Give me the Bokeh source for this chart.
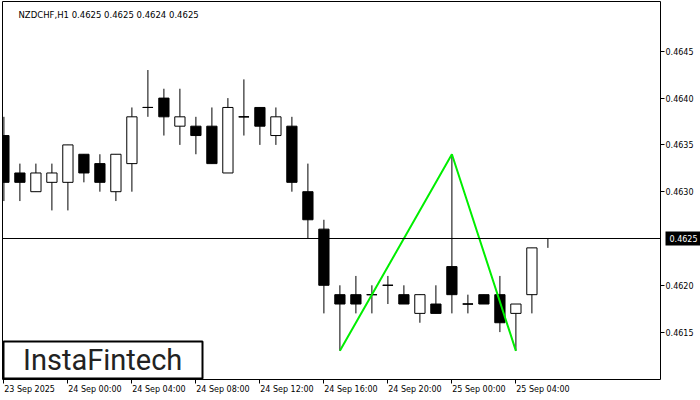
from bokeh.plotting import figure
from bokeh.models import (ColumnDataSource, Range1d, FixedTicker, Span, Label,
                          BoxAnnotation, PrintfTickFormatter, LinearAxis)
from bokeh.embed import file_html
from bokeh.resources import INLINE

# ---------------- data ----------------
chart_title = "NZDCHF,H1  0.4625 0.4625 0.4624 0.4625"
opens  = [0.4636, 0.4632, 0.4630, 0.4631, 0.4631, 0.4634, 0.4633, 0.4630, 0.4633, 0.4639,
          0.4640, 0.4637, 0.4637, 0.4637, 0.4632, 0.4638, 0.4639, 0.4636, 0.4637, 0.4630,
          0.4626, 0.4619, 0.4619, 0.4619, 0.4620, 0.4619, 0.4617, 0.4618, 0.4622, 0.4618,
          0.4619, 0.4619, 0.4617, 0.4619, 0.4625]
highs  = [0.4638, 0.4633, 0.4633, 0.4633, 0.4635, 0.4634, 0.4634, 0.4634, 0.4639, 0.4643,
          0.4641, 0.4641, 0.4638, 0.4639, 0.4640, 0.4642, 0.4639, 0.4639, 0.4638, 0.4633,
          0.4627, 0.4620, 0.4621, 0.4620, 0.4621, 0.4620, 0.4619, 0.4620, 0.4634, 0.4619,
          0.4619, 0.4621, 0.4618, 0.4624, 0.4625]
lows   = [0.4629, 0.4629, 0.4630, 0.4628, 0.4628, 0.4631, 0.4630, 0.4629, 0.4630, 0.4638,
          0.4636, 0.4635, 0.4634, 0.4633, 0.4632, 0.4636, 0.4635, 0.4635, 0.4630, 0.4625,
          0.4617, 0.4613, 0.4617, 0.4617, 0.4618, 0.4618, 0.4616, 0.4617, 0.4617, 0.4617,
          0.4618, 0.4615, 0.4613, 0.4617, 0.4624]
closes = [0.4631, 0.4631, 0.4632, 0.4632, 0.4635, 0.4632, 0.4631, 0.4634, 0.4638, 0.4639,
          0.4638, 0.4638, 0.4636, 0.4633, 0.4639, 0.4638, 0.4637, 0.4638, 0.4631, 0.4627,
          0.4620, 0.4618, 0.4618, 0.4619, 0.4620, 0.4618, 0.4619, 0.4617, 0.4619, 0.4618,
          0.4618, 0.4616, 0.4618, 0.4624, 0.4625]
x_tick_positions = [0, 4, 8, 12, 16, 20, 24, 28, 32]
x_tick_labels = ["23 Sep 2025", "24 Sep 00:00", "24 Sep 04:00", "24 Sep 08:00",
                 "24 Sep 12:00", "24 Sep 16:00", "24 Sep 20:00", "25 Sep 00:00",
                 "25 Sep 04:00"]
y_ticks = [0.4615, 0.4620, 0.4630, 0.4635, 0.4640, 0.4645]
current_price = 0.4625
current_price_label = "0.4625"
pattern_bars = [21, 28, 32]          # double bottom pattern: low, high, low
pattern_points = ["low", "high", "low"]
logo_text = "InstaFintech"

# ---------------- helpers (reference pixel -> data) ----------------
BAR_PX, BAR0_PX = 16.0, 3.4
PRICE_REF_Y, PX_PER_PRICE = 238.0, 93600.0

def kx(px):
    return (px - BAR0_PX) / BAR_PX

def py(pyx):
    return current_price + (PRICE_REF_Y - pyx) / PX_PER_PRICE

FONT = "DejaVu Sans"
FS = 8.0
_W = {c: 0.636 for c in "0123456789"}
_W.update({" ": 0.318, "S": 0.635, "e": 0.615, "p": 0.635, ":": 0.337, ".": 0.318})

def text_w_px(s):
    return sum(_W.get(c, 0.6) for c in s) * FS

idx = list(range(len(opens)))
body_w = 0.64
src = ColumnDataSource(dict(
    x=idx, open=opens, high=highs, low=lows, close=closes,
    top=[max(o, c) for o, c in zip(opens, closes)],
    bottom=[min(o, c) for o, c in zip(opens, closes)],
    fill=["white" if c > o else "black" for o, c in zip(opens, closes)],
))
doji = [i for i in idx if opens[i] == closes[i]]
doji_src = ColumnDataSource(dict(
    x0=[i - body_w / 2 for i in doji], x1=[i + body_w / 2 for i in doji],
    y=[opens[i] for i in doji]))

FL, FR, FT, FB = 2, 660, 1, 379     # frame edges in page pixels
W, H = 700, 400
x0, x1 = kx(FL), kx(FR)
p = figure(width=W, height=H,
           x_range=Range1d(x0, x1),
           y_range=Range1d(py(FB), py(FT)),
           y_axis_location="right", toolbar_location=None, output_backend="svg",
           min_border_left=FL, min_border_top=FT, min_border_right=W - FR,
           min_border_bottom=H - FB)
p.grid.visible = False
p.outline_line_color = "black"
p.outline_line_width = 1
p.background_fill_color = "white"
p.border_fill_color = "white"

# tick-mark axis
xa = p.xaxis[0]
xa.ticker = FixedTicker(ticks=x_tick_positions)
xa.major_label_overrides = {k: "" for k in x_tick_positions}
xa.major_label_text_font_size = "0px"
xa.major_label_standoff = 0
xa.axis_line_color = None
xa.major_tick_in = 0
xa.major_tick_out = 4
xa.minor_tick_line_color = None

# label axis (labels start at their tick, as in the reference)
label_pos = [t + text_w_px(s) / 2 / BAR_PX + 0.02 for t, s in zip(x_tick_positions, x_tick_labels)]
xl = LinearAxis(ticker=FixedTicker(ticks=label_pos),
                major_label_overrides={k: v for k, v in zip(label_pos, x_tick_labels)},
                axis_line_color=None, major_tick_in=0, major_tick_out=0,
                minor_tick_line_color=None, major_label_standoff=1,
                major_label_text_font=FONT, major_label_text_font_size=f"{FS}px",
                major_label_text_color="black")
p.add_layout(xl, "below")

Y_TICK_OUT, Y_STANDOFF = 4, 1
ya = p.yaxis[0]
ya.ticker = FixedTicker(ticks=y_ticks)
ya.formatter = PrintfTickFormatter(format="%.4f")
ya.axis_line_color = None
ya.major_tick_in = 0
ya.major_tick_out = Y_TICK_OUT
ya.minor_tick_line_color = None
ya.major_label_standoff = Y_STANDOFF
ya.major_label_text_font = FONT
ya.major_label_text_font_size = f"{FS}px"
ya.major_label_text_color = "black"

# price tag: a second right axis stacked after the first one; its single thick
# tick (pointing back towards the frame) forms the black box, its label the text
first_axis_px = round(Y_TICK_OUT + Y_STANDOFF + text_w_px("0.4645"))
tag_pos = FR + first_axis_px
tag_axis = LinearAxis(ticker=FixedTicker(ticks=[current_price]),
                      major_label_overrides={current_price: current_price_label},
                      axis_line_color=None, minor_tick_line_color=None,
                      major_tick_line_color="black", major_tick_line_width=14,
                      major_tick_line_cap="butt",
                      major_tick_in=tag_pos - 662, major_tick_out=697 - tag_pos,
                      major_label_standoff=666 - 697,
                      major_label_text_color="white",
                      major_label_text_font=FONT, major_label_text_font_size=f"{FS}px")
p.add_layout(tag_axis, "right")

# candles
p.segment(x0="x", y0="high", x1="x", y1="low", source=src, line_color="black", line_width=1)
p.vbar(x="x", width=body_w, top="top", bottom="bottom", source=src,
       fill_color="fill", line_color="black", line_width=1)
p.segment(x0="x0", y0="y", x1="x1", y1="y", source=doji_src, line_color="black", line_width=1)

# current price line
p.add_layout(Span(location=current_price, dimension="width", line_color="black", line_width=1))

# pattern line
pat_y = [lows[i] if k == "low" else highs[i] for i, k in zip(pattern_bars, pattern_points)]
p.line(x=pattern_bars, y=pat_y, line_color="#00ee00", line_width=2)

# title
p.add_layout(Label(x=kx(18), y=py(14.5), text=chart_title, text_color="black",
                   text_font=FONT, text_font_size="8.5px",
                   text_baseline="alphabetic", text_align="left"))

# logo
p.add_layout(BoxAnnotation(left=kx(3), right=kx(202), top=py(341), bottom=py(378),
                           fill_color="white", fill_alpha=1.0,
                           line_color="black", line_width=2, line_alpha=1.0))
p.add_layout(Label(x=kx(102.2), y=py(359.5), text=logo_text, text_color="#222222",
                   text_font="Roboto", text_font_size="29px",
                   text_baseline="middle", text_align="center"))

open("out.html", "w").write(file_html(p, INLINE))
